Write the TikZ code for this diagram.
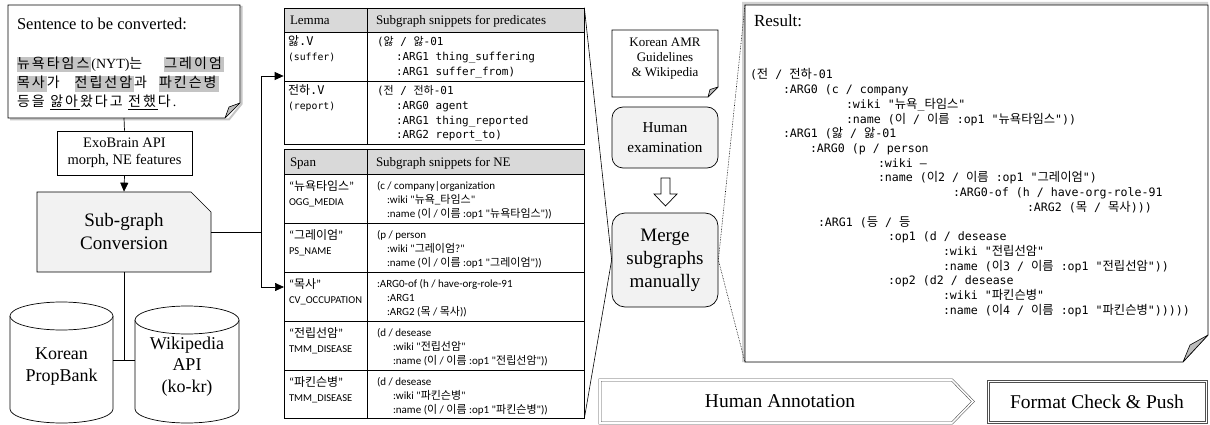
\documentclass[tikz,border=0pt]{standalone}
\usepackage{fontspec}
\setmainfont{Liberation Serif}
\newfontfamily\codefont{DejaVu Sans Mono}
\newfontfamily\carlito{Carlito}
\newfontfamily\krfont{Noto Sans CJK KR}
\newfontfamily\krcode{Noto Sans CJK KR}[Scale=1.06]
\usetikzlibrary{arrows.meta,shapes.misc}
\definecolor{hdr}{HTML}{D9D9D9}
\definecolor{lightfill}{HTML}{F2F2F2}
\definecolor{hlgray}{HTML}{C4C4C4}
\definecolor{foldgray}{HTML}{BDBDBD}
\definecolor{dblgray}{HTML}{505050}
\newcommand\fs[2]{\fontsize{#1}{#2}\selectfont}
\newcommand\K[1]{{\krfont #1}}
\def\KSi#1{\ifx#1\relax\else#1\kern2pt\expandafter\KSi\fi}
\newcommand\KS[1]{{\krfont\KSi#1\relax}}
\newcommand\hl[1]{{\setlength\fboxsep{0pt}\colorbox{hlgray}{\rule[-4pt]{0pt}{15pt}#1}}}
\tikzset{
  txt/.style={anchor=base west, inner sep=0pt, outer sep=0pt},
  ln/.style={line width=0.7pt},
  arr/.style={line width=0.7pt, -{Triangle[length=9pt,width=8pt]}},
  dbl/.style={draw=dblgray, double=white, double distance=1.6pt, line width=0.55pt},
  thinb/.style={draw=dblgray, line width=0.6pt},
  rbox/.style={draw, line width=0.7pt, fill=lightfill, rounded corners=11pt, align=center, inner sep=0pt},
  shp/.style={draw=none, inner sep=0pt, outer sep=0pt},
  tcode/.style={font=\codefont\fs{11}{14}},
  tsub/.style={font=\codefont\fs{9.8}{12}},
  tlem/.style={font=\codefont\fs{12}{14}},
  tsn/.style={font=\carlito\fs{11}{14}},
  ttag/.style={font=\carlito\fs{10.5}{12}},
  tspan/.style={font=\carlito\fs{12}{14}},
  rcode/.style={font=\codefont\fs{11.6}{14.7}\let\krfont\krcode},
  hdrtxt/.style={font=\fs{13}{15}},
}
\begin{document}
\begin{tikzpicture}[x=1pt,y=-1pt]
\useasboundingbox (0,0) rectangle (1210,425);

% ---------- sentence box ----------
\node[shp, minimum width=232pt, minimum height=113pt] (sent) at (124,61.5) {};
\draw[gray!45, line width=2pt] (10,7) -- (241.5,7) -- (241.5,104) -- (229,119.5) -- (10,119.5);
\draw[ln, fill=white] (8,5) -- (240,5) -- (240,103) -- (225,118) -- (8,118) -- cycle;
\draw[line width=0.6pt, fill=foldgray, line join=round] (240,103) -- (229,107) -- (225,118) -- cycle;
\node[txt, font=\fs{16.5}{19}] (s0) at (17,29.5) {Sentence to be converted:};
\node[txt, font=\fs{14}{19}] (s1) at (17,68.5) {\hl{\KS{뉴욕타임스}}(NYT)\KS{는}\hspace{20pt}\hl{\KS{그레이엄}}};
\node[txt, font=\fs{14}{19}] (s2) at (17,88) {\hl{\KS{목사}}\KS{가}\hspace{13pt}\hl{\KS{전립선암}}\KS{과}\hspace{10pt}\hl{\KS{파킨슨병}}};
\node[txt, font=\fs{14}{19}] (s3) at (17,107) {\KS{등을} \underline{\KS{앓아}}\KS{왔다고} \underline{\KS{전했}}\KS{다}.};

% ---------- ExoBrain & Sub-graph ----------
\node[draw, ln, minimum width=135pt, minimum height=44pt, align=center, inner sep=0pt, font=\fs{14.5}{17}] (exo) at (124.5,153) {ExoBrain API\\morph, NE features};
\node[chamfered rectangle, chamfered rectangle corners=north east, chamfered rectangle xsep=10pt, chamfered rectangle ysep=10pt,
      draw, ln, fill=lightfill, minimum width=174pt, minimum height=80pt, align=center, inner sep=0pt, font=\fs{19}{23}] (sub) at (124,232) {Sub-graph\\Conversion};
\draw[ln] (sent.south) -- (exo.north);
\draw[arr] (exo.south) -- (sub.north);

% ---------- cylinders ----------
\draw[ln, fill=white] (10,316) -- (10,409) .. controls (10,416.7) and (33.1,423) .. (61.5,423) .. controls (89.9,423) and (113,416.7) .. (113,409) -- (113,316);
\draw[ln, fill=white] (61.5,316) ellipse [x radius=51.5, y radius=14];
\draw[ln, fill=white] (135,320) -- (135,409) .. controls (135,416.7) and (158.3,423) .. (187,423) .. controls (215.7,423) and (239,416.7) .. (239,409) -- (239,320);
\draw[ln, fill=white] (187,320) ellipse [x radius=52, y radius=14];
\node[shp, minimum width=103pt, minimum height=100pt, align=center, font=\fs{18}{22}] (kpb) at (61.5,367) {Korean\\PropBank};
\node[shp, minimum width=104pt, minimum height=100pt, align=center, font=\fs{18}{21.5}] (wiki) at (187,366.5) {Wikipedia\\API\\(ko-kr)};
\coordinate (jb) at (124,360);
\draw[ln] (sub.south) -- (jb);
\draw[ln] (kpb.east |- jb) -- (wiki.west |- jb);

% ---------- tables ----------
\fill[hdr] (284,8) rectangle (584,32);
\fill[hdr] (284,149) rectangle (584,174);
\node[draw, ln, minimum width=300pt, minimum height=136pt, inner sep=0pt] (tab1) at (434,76) {};
\node[draw, ln, minimum width=300pt, minimum height=269pt, inner sep=0pt] (tab2) at (434,283.5) {};
\draw[ln] (284,32) -- (584,32);
\draw[ln] (284,81) -- (584,81);
\draw[ln] (367,8) -- (367,144);
\draw[ln] (284,174) -- (584,174);
\draw[ln] (284,223) -- (584,223);
\draw[ln] (284,272) -- (584,272);
\draw[ln] (284,321) -- (584,321);
\draw[ln] (284,370) -- (584,370);
\draw[ln] (367,149) -- (367,418);

\node[txt, hdrtxt] (h1a) at (290,25) {Lemma};
\node[txt, hdrtxt] (h1b) at (376,25) {Subgraph snippets for predicates};
\node[txt, hdrtxt] (h2a) at (290,166) {Span};
\node[txt, hdrtxt] (h2b) at (376,166) {Subgraph snippets for NE};

\node[txt, tlem] (l1a) at (288,46) {\K{앓}.V};
\node[txt, tsub] (l1b) at (288,61) {(suffer)};
\node[txt, tlem] (l2a) at (288,95) {\K{전하}.V};
\node[txt, tsub] (l2b) at (288,110) {(report)};

\node[txt, tcode] (p1a) at (377,46) {(\K{앓} / \K{앓}-01};
\node[txt, tcode] (p1b) at (396,61) {:ARG1 thing\_suffering};
\node[txt, tcode] (p1c) at (396,76) {:ARG1 suffer\_from)};
\node[txt, tcode] (p2a) at (377,95) {(\K{전} / \K{전하}-01};
\node[txt, tcode] (p2b) at (396,110) {:ARG0 agent};
\node[txt, tcode] (p2c) at (396,124.5) {:ARG1 thing\_reported};
\node[txt, tcode] (p2d) at (396,139) {:ARG2 report\_to)};

% NE rows
\node[txt, tspan] (n1a) at (289,190) {“\K{뉴욕타임스}”};
\node[txt, ttag] (n1b) at (289,205) {OGG\_MEDIA};
\node[txt, tsn] (q1a) at (377,189) {(c / company|organization};
\node[txt, tsn] (q1b) at (387,203.5) {:wiki "\K{뉴욕}\_\K{타임스}"};
\node[txt, tsn] (q1c) at (387,217.5) {:name (\K{이} / \K{이름} :op1 "\K{뉴욕타임스}"))};

\node[txt, tspan] (n2a) at (289,239) {“\K{그레이엄}”};
\node[txt, ttag] (n2b) at (289,254) {PS\_NAME};
\node[txt, tsn] (q2a) at (377,238) {(p / person};
\node[txt, tsn] (q2b) at (387,252.5) {:wiki "\K{그레이엄}?"};
\node[txt, tsn] (q2c) at (387,266.5) {:name (\K{이} / \K{이름} :op1 "\K{그레이엄}"))};

\node[txt, tspan] (n3a) at (289,288) {“\K{목사}”};
\node[txt, ttag] (n3b) at (289,303) {CV\_OCCUPATION};
\node[txt, tsn] (q3a) at (377,287) {:ARG0-of (h / have-org-role-91};
\node[txt, tsn] (q3b) at (387,301.5) {:ARG1};
\node[txt, tsn] (q3c) at (387,315.5) {:ARG2 (\K{목} / \K{목사}))};

\node[txt, tspan] (n4a) at (289,337) {“\K{전립선암}”};
\node[txt, ttag] (n4b) at (289,352) {TMM\_DISEASE};
\node[txt, tsn] (q4a) at (377,336) {(d / desease};
\node[txt, tsn] (q4b) at (393,350.5) {:wiki "\K{전립선암}"};
\node[txt, tsn] (q4c) at (393,364.5) {:name (\K{이} / \K{이름} :op1 "\K{전립선암}"))};

\node[txt, tspan] (n5a) at (289,386) {“\K{파킨슨병}”};
\node[txt, ttag] (n5b) at (289,401) {TMM\_DISEASE};
\node[txt, tsn] (q5a) at (377,385) {(d / desease};
\node[txt, tsn] (q5b) at (393,399.5) {:wiki "\K{파킨슨병}"};
\node[txt, tsn] (q5c) at (393,413.5) {:name (\K{이} / \K{이름} :op1 "\K{파킨슨병}"))};

% connectors sub-graph -> tables
\coordinate (jr) at (261,232);
\coordinate (t2in) at (284,287);
\draw[ln] (sub.east) -- (jr);
\draw[arr] (jr) |- (tab1.west);
\draw[arr] (jr) |- (t2in);

% ---------- middle column ----------
\node[shp, minimum width=106pt, minimum height=67pt] (guide) at (665,63.5) {};
\draw[ln, fill=white] (612,30) -- (718,30) -- (718,87) -- (708,97) -- (612,97) -- cycle;
\draw[line width=0.6pt, fill=foldgray, line join=round] (718,87) -- (710,89.5) -- (708,97) -- cycle;
\node[inner sep=0pt, align=center, font=\fs{13}{14.8}] (guidet) at (665,58.5) {Korean AMR\\Guidelines\\\& Wikipedia};

\node[rbox, minimum width=106pt, minimum height=61pt, font=\fs{15.2}{20}] (hexam) at (665,137.5) {Human\\examination};
\draw[ln, fill=white] (661,178) -- (670,178) -- (670,194) -- (677,194) -- (665.5,206) -- (654,194) -- (661,194) -- cycle;
\node[rbox, minimum width=106pt, minimum height=94pt, rounded corners=13pt, font=\fs{19}{23}] (merge) at (665,260) {Merge\\subgraphs\\manually};

\draw[line width=0.6pt] (tab1.north east) -- (merge.west) -- (tab2.south east);

% ---------- result box ----------
\node[shp, minimum width=463pt, minimum height=357pt] (res) at (976.5,183.5) {};
\draw[gray!35, line width=3pt] (743.5,3.5) -- (1206.5,3.5) -- (1206.5,333.5) -- (1181.5,360.5) -- (743.5,360.5) -- cycle;
\draw[ln, fill=white] (745,5) -- (1208,5) -- (1208,335) -- (1183,362) -- (745,362) -- cycle;
\draw[line width=0.6pt, fill=foldgray, line join=round] (1208,335) -- (1190,345) -- (1183,362) -- cycle;
\draw[line width=0.6pt, densely dotted] (res.north west) -- (merge.east) -- (res.south west);

\node[txt, font=\fs{17}{19}] (rt) at (754,27) {Result:};
\node[txt, rcode] (r0) at (750,79) {(\K{전} / \K{전하}-01};
\node[txt, rcode] (r1) at (783,93.7) {:ARG0 (c / company};
\node[txt, rcode] (r2) at (846,108.4) {:wiki "\K{뉴욕}\_\K{타임스}"};
\node[txt, rcode] (r3) at (846,123.1) {:name (\K{이} / \K{이름} :op1 "\K{뉴욕타임스}"))};
\node[txt, rcode] (r4) at (783,137.8) {:ARG1 (\K{앓} / \K{앓}-01};
\node[txt, rcode] (r5) at (810,152.5) {:ARG0 (p / person};
\node[txt, rcode] (r6) at (878,167.2) {:wiki –};
\node[txt, rcode] (r7) at (878,181.9) {:name (\K{이}2 / \K{이름} :op1 "\K{그레이엄}")};
\node[txt, rcode] (r8) at (953,196.6) {:ARG0-of (h / have-org-role-91};
\node[txt, rcode] (r9) at (1027,211.3) {:ARG2 (\K{목} / \K{목사})))};
\node[txt, rcode] (r10) at (818,226) {:ARG1 (\K{등} / \K{등}};
\node[txt, rcode] (r11) at (888,240.7) {:op1 (d / desease};
\node[txt, rcode] (r12) at (943,255.4) {:wiki "\K{전립선암}"};
\node[txt, rcode] (r13) at (943,270.1) {:name (\K{이}3 / \K{이름} :op1 "\K{전립선암}"))};
\node[txt, rcode] (r14) at (888,284.8) {:op2 (d2 / desease};
\node[txt, rcode] (r15) at (943,299.5) {:wiki "\K{파킨슨병}"};
\node[txt, rcode] (r16) at (943,314.2) {:name (\K{이}4 / \K{이름} :op1 "\K{파킨슨병}")))))};

% ---------- bottom bar ----------
\draw[dbl] (600,380) -- (952,380) -- (973,401.5) -- (952,423) -- (600,423) -- cycle;
\node[inner sep=0pt, font=\fs{19.5}{22}] (hann) at (780,401.5) {Human Annotation};
\node[shp, minimum width=220pt, minimum height=43pt] (fcp) at (1097,401.5) {};
\draw[thinb] (fcp.north west) rectangle (fcp.south east);
\draw[thinb] ([xshift=2.2pt,yshift=-2.2pt]fcp.north west) rectangle ([xshift=-2.2pt,yshift=2.2pt]fcp.south east);
\node[inner sep=0pt, font=\fs{19.5}{22}] (fcpt) at (fcp.center) {Format Check \& Push};
\end{tikzpicture}
\end{document}
